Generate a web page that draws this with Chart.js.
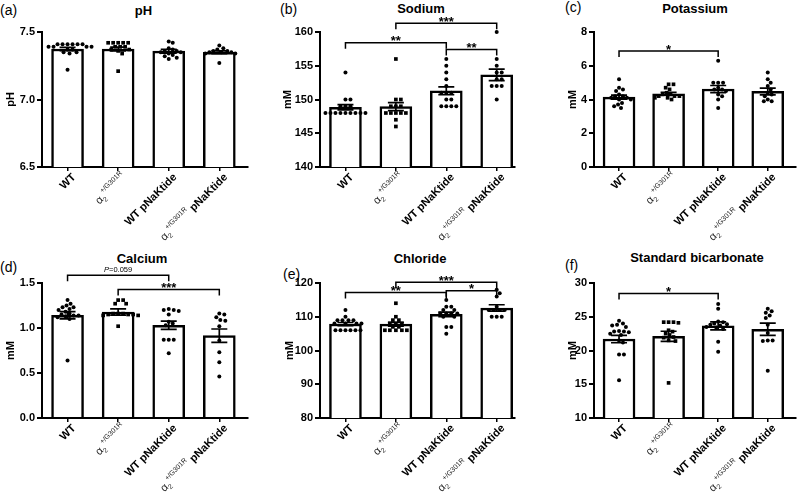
<!DOCTYPE html>
<html>
<head>
<meta charset="utf-8">
<script src="https://cdn.jsdelivr.net/npm/chart.js@4"></script>
<style>
  body { margin: 0; width: 800px; height: 494px; position: relative; background: #fff; overflow: hidden;
         font-family: "Liberation Sans", Arial, sans-serif; color: #000; }
  canvas { position: absolute; }
  .ttl { position: absolute; font-weight: bold; font-size: 13px; line-height: 13px; white-space: nowrap; transform: translateX(-50%); }
  .lbl { position: absolute; font-size: 14px; line-height: 14px; }
</style>
</head>
<body>
<div class="lbl" style="left:0px;top:3px">(a)</div>
<div class="lbl" style="left:280px;top:2px">(b)</div>
<div class="lbl" style="left:565px;top:0px">(c)</div>
<div class="lbl" style="left:0px;top:260px">(d)</div>
<div class="lbl" style="left:283px;top:267px">(e)</div>
<div class="lbl" style="left:565px;top:258px">(f)</div>

<div class="ttl" style="left:143.5px;top:4px">pH</div>
<div class="ttl" style="left:421px;top:2px">Sodium</div>
<div class="ttl" style="left:695px;top:2px">Potassium</div>
<div class="ttl" style="left:142px;top:252px">Calcium</div>
<div class="ttl" style="left:420px;top:252px">Chloride</div>
<div class="ttl" style="left:697px;top:251px">Standard bicarbonate</div>

<canvas id="cA" width="265" height="247" style="left:0;top:0"></canvas>
<canvas id="cB" width="265" height="247" style="left:265px;top:0"></canvas>
<canvas id="cC" width="270" height="247" style="left:530px;top:0"></canvas>
<canvas id="cD" width="265" height="247" style="left:0;top:247px"></canvas>
<canvas id="cE" width="265" height="247" style="left:265px;top:247px"></canvas>
<canvas id="cF" width="270" height="247" style="left:530px;top:247px"></canvas>

<script>
'use strict'

// groups on the x axis
const groups = ['WT', 'α2+/G301R', 'WT pNaKtide', 'α2+/G301R pNaKtide'];

// (a) pH
const phTicks = [6.5, 7.0, 7.5];
const phMean = [7.374, 7.374, 7.358, 7.350];
const phSem = [0.012, 0.014, 0.014, 0.010];
const phPoints = [
  [7.41, 7.41, 7.41, 7.41, 7.41, 7.41, 7.39, 7.39, 7.39, 7.39, 7.37, 7.37, 7.35, 7.35, 7.34, 7.22],
  [7.42, 7.42, 7.42, 7.42, 7.42, 7.39, 7.39, 7.39, 7.37, 7.37, 7.36, 7.34, 7.21],
  [7.43, 7.42, 7.38, 7.37, 7.36, 7.36, 7.35, 7.35, 7.34, 7.33, 7.32, 7.31, 7.30],
  [7.40, 7.38, 7.37, 7.36, 7.36, 7.35, 7.35, 7.35, 7.34, 7.34, 7.27]
];
const phSig = [];

// (b) sodium
const naTicks = [140, 145, 150, 155, 160];
const naMean = [148.85, 148.95, 151.3, 153.65];
const naSem = [0.4, 0.6, 0.58, 0.85];
const naPoints = [
  [154, 150, 150, 149, 149, 149, 148, 148, 148, 148, 148, 148, 148, 148, 148],
  [156, 150, 150, 149, 149, 149, 148, 148, 148, 148, 148, 147, 146],
  [156, 155, 154, 153, 152, 151, 151, 151, 150, 150, 149, 149, 149, 149],
  [160, 156, 155, 154, 154, 153, 153, 152, 152, 152, 150]
];
const naSig = [[0, 2, 158.4, '**'], [1, 3, 161.3, '***'], [2, 3, 157.4, '**']];

// (c) potassium
const kTicks = [0, 2, 4, 6, 8];
const kMean = [4.14, 4.34, 4.62, 4.48];
const kSem = [0.12, 0.08, 0.21, 0.2];
const kPoints = [
  [5.2, 4.7, 4.6, 4.5, 4.3, 4.2, 4.2, 4.1, 4.1, 4.0, 4.0, 3.8, 3.7, 3.6, 3.5],
  [4.9, 4.9, 4.7, 4.6, 4.4, 4.3, 4.3, 4.2, 4.2, 4.2, 4.1, 4.1, 4.0],
  [6.3, 5.0, 5.0, 5.0, 4.7, 4.6, 4.6, 4.5, 4.3, 4.2, 4.0, 3.5],
  [5.6, 5.2, 5.0, 4.8, 4.6, 4.4, 4.3, 4.2, 4.0, 3.9, 3.9]
];
const kSig = [[0, 2, 6.87, '*']];

// (d) calcium
const caTicks = [0.0, 0.5, 1.0, 1.5];
const caMean = [1.141, 1.178, 1.03, 0.915];
const caSem = [0.04, 0.035, 0.046, 0.074];
const caPoints = [
  [1.31, 1.27, 1.25, 1.23, 1.23, 1.21, 1.20, 1.18, 1.16, 1.15, 1.14, 1.14, 1.13, 1.12, 1.10, 0.64],
  [1.31, 1.31, 1.27, 1.27, 1.16, 1.16, 1.16, 1.15, 1.15, 1.15, 1.14, 1.14, 1.02],
  [1.21, 1.20, 1.20, 1.19, 1.15, 1.07, 1.05, 1.03, 0.87, 0.87, 0.87, 0.72],
  [1.16, 1.15, 1.12, 1.09, 1.08, 1.02, 0.86, 0.73, 0.62, 0.46]
];
const caSig = [[0, 2, 1.585, 'P=0.059'], [1, 3, 1.427, '***']];

// (e) chloride
const clTicks = [80, 90, 100, 110, 120];
const clMean = [107.85, 107.8, 110.7, 112.6];
const clSem = [0.45, 0.55, 0.65, 0.95];
const clPoints = [
  [112, 110, 109, 109, 109, 109, 108, 108, 108, 108, 106, 106, 106, 106, 106, 106],
  [114, 110, 109, 109, 108, 108, 108, 107, 107, 106, 106, 106, 106, 106],
  [115, 113, 113, 112, 112, 111, 111, 111, 111, 110, 110, 107, 107, 105],
  [118, 117, 116, 113, 112, 112, 112, 112, 110, 110, 110]
];
const clSig = [[0, 2, 117.2, '**'], [1, 3, 120.2, '***'], [2, 3, 117.7, '*']];

// (f) standard bicarbonate
const hcoTicks = [10, 15, 20, 25, 30];
const hcoMean = [21.7, 22.1, 23.65, 23.15];
const hcoSem = [0.55, 0.75, 0.6, 0.92];
const hcoPoints = [
  [24.4, 24.0, 23.8, 23.7, 23.5, 22.9, 22.8, 22.8, 22.7, 22.5, 22.3, 21.5, 21.2, 19.4, 19.4, 15.6],
  [24.2, 24.2, 24.2, 24.1, 23.0, 22.8, 22.5, 22.3, 22.0, 21.9, 21.5, 21.4, 15.2],
  [26.9, 26.2, 24.3, 24.2, 24.0, 23.9, 23.8, 23.7, 23.5, 23.4, 23.2, 21.3, 19.8],
  [26.2, 25.8, 25.6, 25.2, 24.8, 23.8, 22.6, 21.5, 21.5, 21.4, 17.0]
];
const hcoSig = [[0, 2, 28.43, '*']];

const FONT = '"Liberation Sans", Arial, sans-serif';

// x label as pieces: alpha with subscript 2 and superscript allele, rest bold
function labelParts(name) {
  const parts = [];
  let rest = name;
  if (name.startsWith('α2+/G301R')) {
    parts.push({ t: 'α', f: '11px ' + FONT, dy: 0, c: '#222' });
    parts.push({ t: '2', f: '7px ' + FONT, dy: 2.5, c: '#222' });
    parts.push({ t: '+/G301R', f: '7px ' + FONT, dy: -6, c: '#222' });
    rest = name.slice('α2+/G301R'.length);
  }
  if (rest) parts.push({ t: rest, f: 'bold 11px ' + FONT, dy: 0, c: '#000' });
  return parts;
}

const decor = {
  id: 'decor',
  afterDatasetsDraw(chart, args, opts) {
    const { ctx } = chart;
    const x = chart.scales.x, y = chart.scales.y;
    ctx.save();
    ctx.strokeStyle = '#000';
    ctx.fillStyle = '#000';

    // error bars (mean +/- SEM)
    ctx.lineWidth = 1.7;
    opts.mean.forEach((m, i) => {
      const cx = x.getPixelForValue(i);
      const top = y.getPixelForValue(m + opts.sem[i]);
      const bot = y.getPixelForValue(m - opts.sem[i]);
      ctx.beginPath();
      ctx.moveTo(cx, top); ctx.lineTo(cx, bot);
      ctx.moveTo(cx - 8, top); ctx.lineTo(cx + 8, top);
      ctx.moveTo(cx - 8, bot); ctx.lineTo(cx + 8, bot);
      ctx.stroke();
    });

    // significance brackets
    ctx.lineWidth = 1.5;
    opts.sig.forEach(([a, b, v, label]) => {
      const x1 = x.getPixelForValue(a), x2 = x.getPixelForValue(b);
      const yy = y.getPixelForValue(v);
      ctx.beginPath();
      ctx.moveTo(x1, yy + 6); ctx.lineTo(x1, yy); ctx.lineTo(x2, yy); ctx.lineTo(x2, yy + 6);
      ctx.stroke();
      const mid = (x1 + x2) / 2;
      if (label.startsWith('P=')) {
        ctx.font = 'italic 7.5px ' + FONT;
        const w1 = ctx.measureText('P').width;
        ctx.font = '7.5px ' + FONT;
        const w2 = ctx.measureText(label.slice(1)).width;
        ctx.textAlign = 'left';
        ctx.font = 'italic 7.5px ' + FONT;
        ctx.fillText('P', mid - (w1 + w2) / 2, yy - 3.5);
        ctx.font = '7.5px ' + FONT;
        ctx.fillText(label.slice(1), mid - (w1 + w2) / 2 + w1, yy - 3.5);
      } else {
        ctx.font = 'bold 13px ' + FONT;
        ctx.textAlign = 'center';
        ctx.fillText(label, mid, yy + 2.5);
      }
    });

    // rotated category labels
    ctx.textAlign = 'left';
    ctx.textBaseline = 'alphabetic';
    groups.forEach((g, i) => {
      const parts = labelParts(g);
      ctx.save();
      ctx.translate(x.getPixelForValue(i) + 3, chart.chartArea.bottom + 5);
      ctx.rotate(-Math.PI / 4);
      let w = 0;
      parts.forEach(p => { ctx.font = p.f; w += ctx.measureText(p.t).width; });
      let cur = -w;
      parts.forEach(p => {
        ctx.font = p.f;
        ctx.fillStyle = p.c;
        ctx.fillText(p.t, cur, 8 + p.dy);
        cur += ctx.measureText(p.t).width;
      });
      ctx.restore();
    });
    ctx.restore();
  }
};

// spread points of one group sideways so that they do not overlap
function swarm(chart, points) {
  const xs = chart.scales.x, ys = chart.scales.y;
  const step = xs.getPixelForValue(1) - xs.getPixelForValue(0);
  const gap = 4.2;
  const out = [];
  points.forEach((vals, g) => {
    const placed = [];
    vals.forEach(v => {
      const py = ys.getPixelForValue(v);
      let off = 0;
      for (let k = 0; k < 60; k++) {
        const cand = (k % 2 ? 1 : -1) * Math.ceil(k / 2);
        const hit = placed.some(p => (p.off - cand) ** 2 + (p.py - py) ** 2 < gap * gap);
        if (!hit) { off = cand; break; }
      }
      placed.push({ off, py });
      out.push({ x: g + off / step, y: v, g });
    });
  });
  chart.data.datasets[0].data = out;
  chart.update('none');
}

function makePanel(id, d) {
  const chart = new Chart(document.getElementById(id), {
    type: 'bar',
    data: {
      datasets: [
        {
          type: 'scatter',
          data: [],
          order: 0,
          clip: false,
          backgroundColor: '#000',
          borderWidth: 0,
          pointStyle: c => (c.raw && c.raw.g === 1 ? 'rect' : 'circle'),
          pointRadius: c => (c.raw && c.raw.g === 1 ? 2.6 : 2)
        },
        {
          type: 'bar',
          data: d.mean.map((m, i) => ({ x: i, y: m })),
          order: 1,
          backgroundColor: '#fff',
          borderColor: '#000',
          borderWidth: 2.5,
          barThickness: 32
        }
      ]
    },
    options: {
      responsive: false,
      animation: false,
      events: [],
      layout: { padding: { top: d.padTop, right: d.padRight, left: 0, bottom: 0 } },
      plugins: {
        legend: { display: false },
        tooltip: { enabled: false },
        decor: { mean: d.mean, sem: d.sem, sig: d.sig }
      },
      scales: {
        x: {
          type: 'linear',
          min: -0.505,
          max: d.xMax,
          offset: false,
          afterBuildTicks: s => { s.ticks = groups.map((g, i) => ({ value: i })); },
          afterFit: s => { s.height = d.xh; },
          ticks: { display: false },
          grid: { drawOnChartArea: false, drawTicks: true, tickLength: 4, color: '#000', lineWidth: 1.5, offset: false },
          border: { color: '#000', width: 2 }
        },
        y: {
          min: d.ticks[0],
          max: d.ticks[d.ticks.length - 1],
          beginAtZero: false,
          afterBuildTicks: s => { s.ticks = d.ticks.map(v => ({ value: v })); },
          afterFit: s => { s.width = d.yw; },
          ticks: {
            color: '#000',
            padding: 2,
            font: { family: FONT, size: 11, weight: 'bold' },
            callback: v => v.toFixed(d.dec)
          },
          grid: { drawOnChartArea: false, drawTicks: true, tickLength: 5, color: '#000', lineWidth: 2 },
          border: { color: '#000', width: 2 },
          title: {
            display: true,
            text: d.yTitle,
            color: '#000',
            font: { family: FONT, size: 11, weight: 'bold' },
            padding: { top: d.titlePad, bottom: 0 }
          }
        }
      }
    },
    plugins: [decor]
  });
  swarm(chart, d.points);
  return chart;
}

makePanel('cA', { mean: phMean, sem: phSem, points: phPoints, sig: phSig, ticks: phTicks, dec: 1,
  yTitle: 'pH', titlePad: 4, yw: 42, padRight: 17, padTop: 32, xh: 80, xMax: 3.567 });
makePanel('cB', { mean: naMean, sem: naSem, points: naPoints, sig: naSig, ticks: naTicks, dec: 0,
  yTitle: 'mM', titlePad: 16, yw: 55, padRight: 15, padTop: 32, xh: 80, xMax: 3.363 });
makePanel('cC', { mean: kMean, sem: kSem, points: kPoints, sig: kSig, ticks: kTicks, dec: 0,
  yTitle: 'mM', titlePad: 36, yw: 64, padRight: 0, padTop: 32, xh: 80, xMax: 3.57 });
makePanel('cD', { mean: caMean, sem: caSem, points: caPoints, sig: caSig, ticks: caTicks, dec: 1,
  yTitle: 'mM', titlePad: 4, yw: 42, padRight: 17, padTop: 36, xh: 76, xMax: 3.567 });
makePanel('cE', { mean: clMean, sem: clSem, points: clPoints, sig: clSig, ticks: clTicks, dec: 0,
  yTitle: 'mM', titlePad: 18, yw: 55, padRight: 15, padTop: 36, xh: 76, xMax: 3.363 });
makePanel('cF', { mean: hcoMean, sem: hcoSem, points: hcoPoints, sig: hcoSig, ticks: hcoTicks, dec: 0,
  yTitle: 'mM', titlePad: 36, yw: 64, padRight: 0, padTop: 36, xh: 76, xMax: 3.57 });
</script>
</body>
</html>
